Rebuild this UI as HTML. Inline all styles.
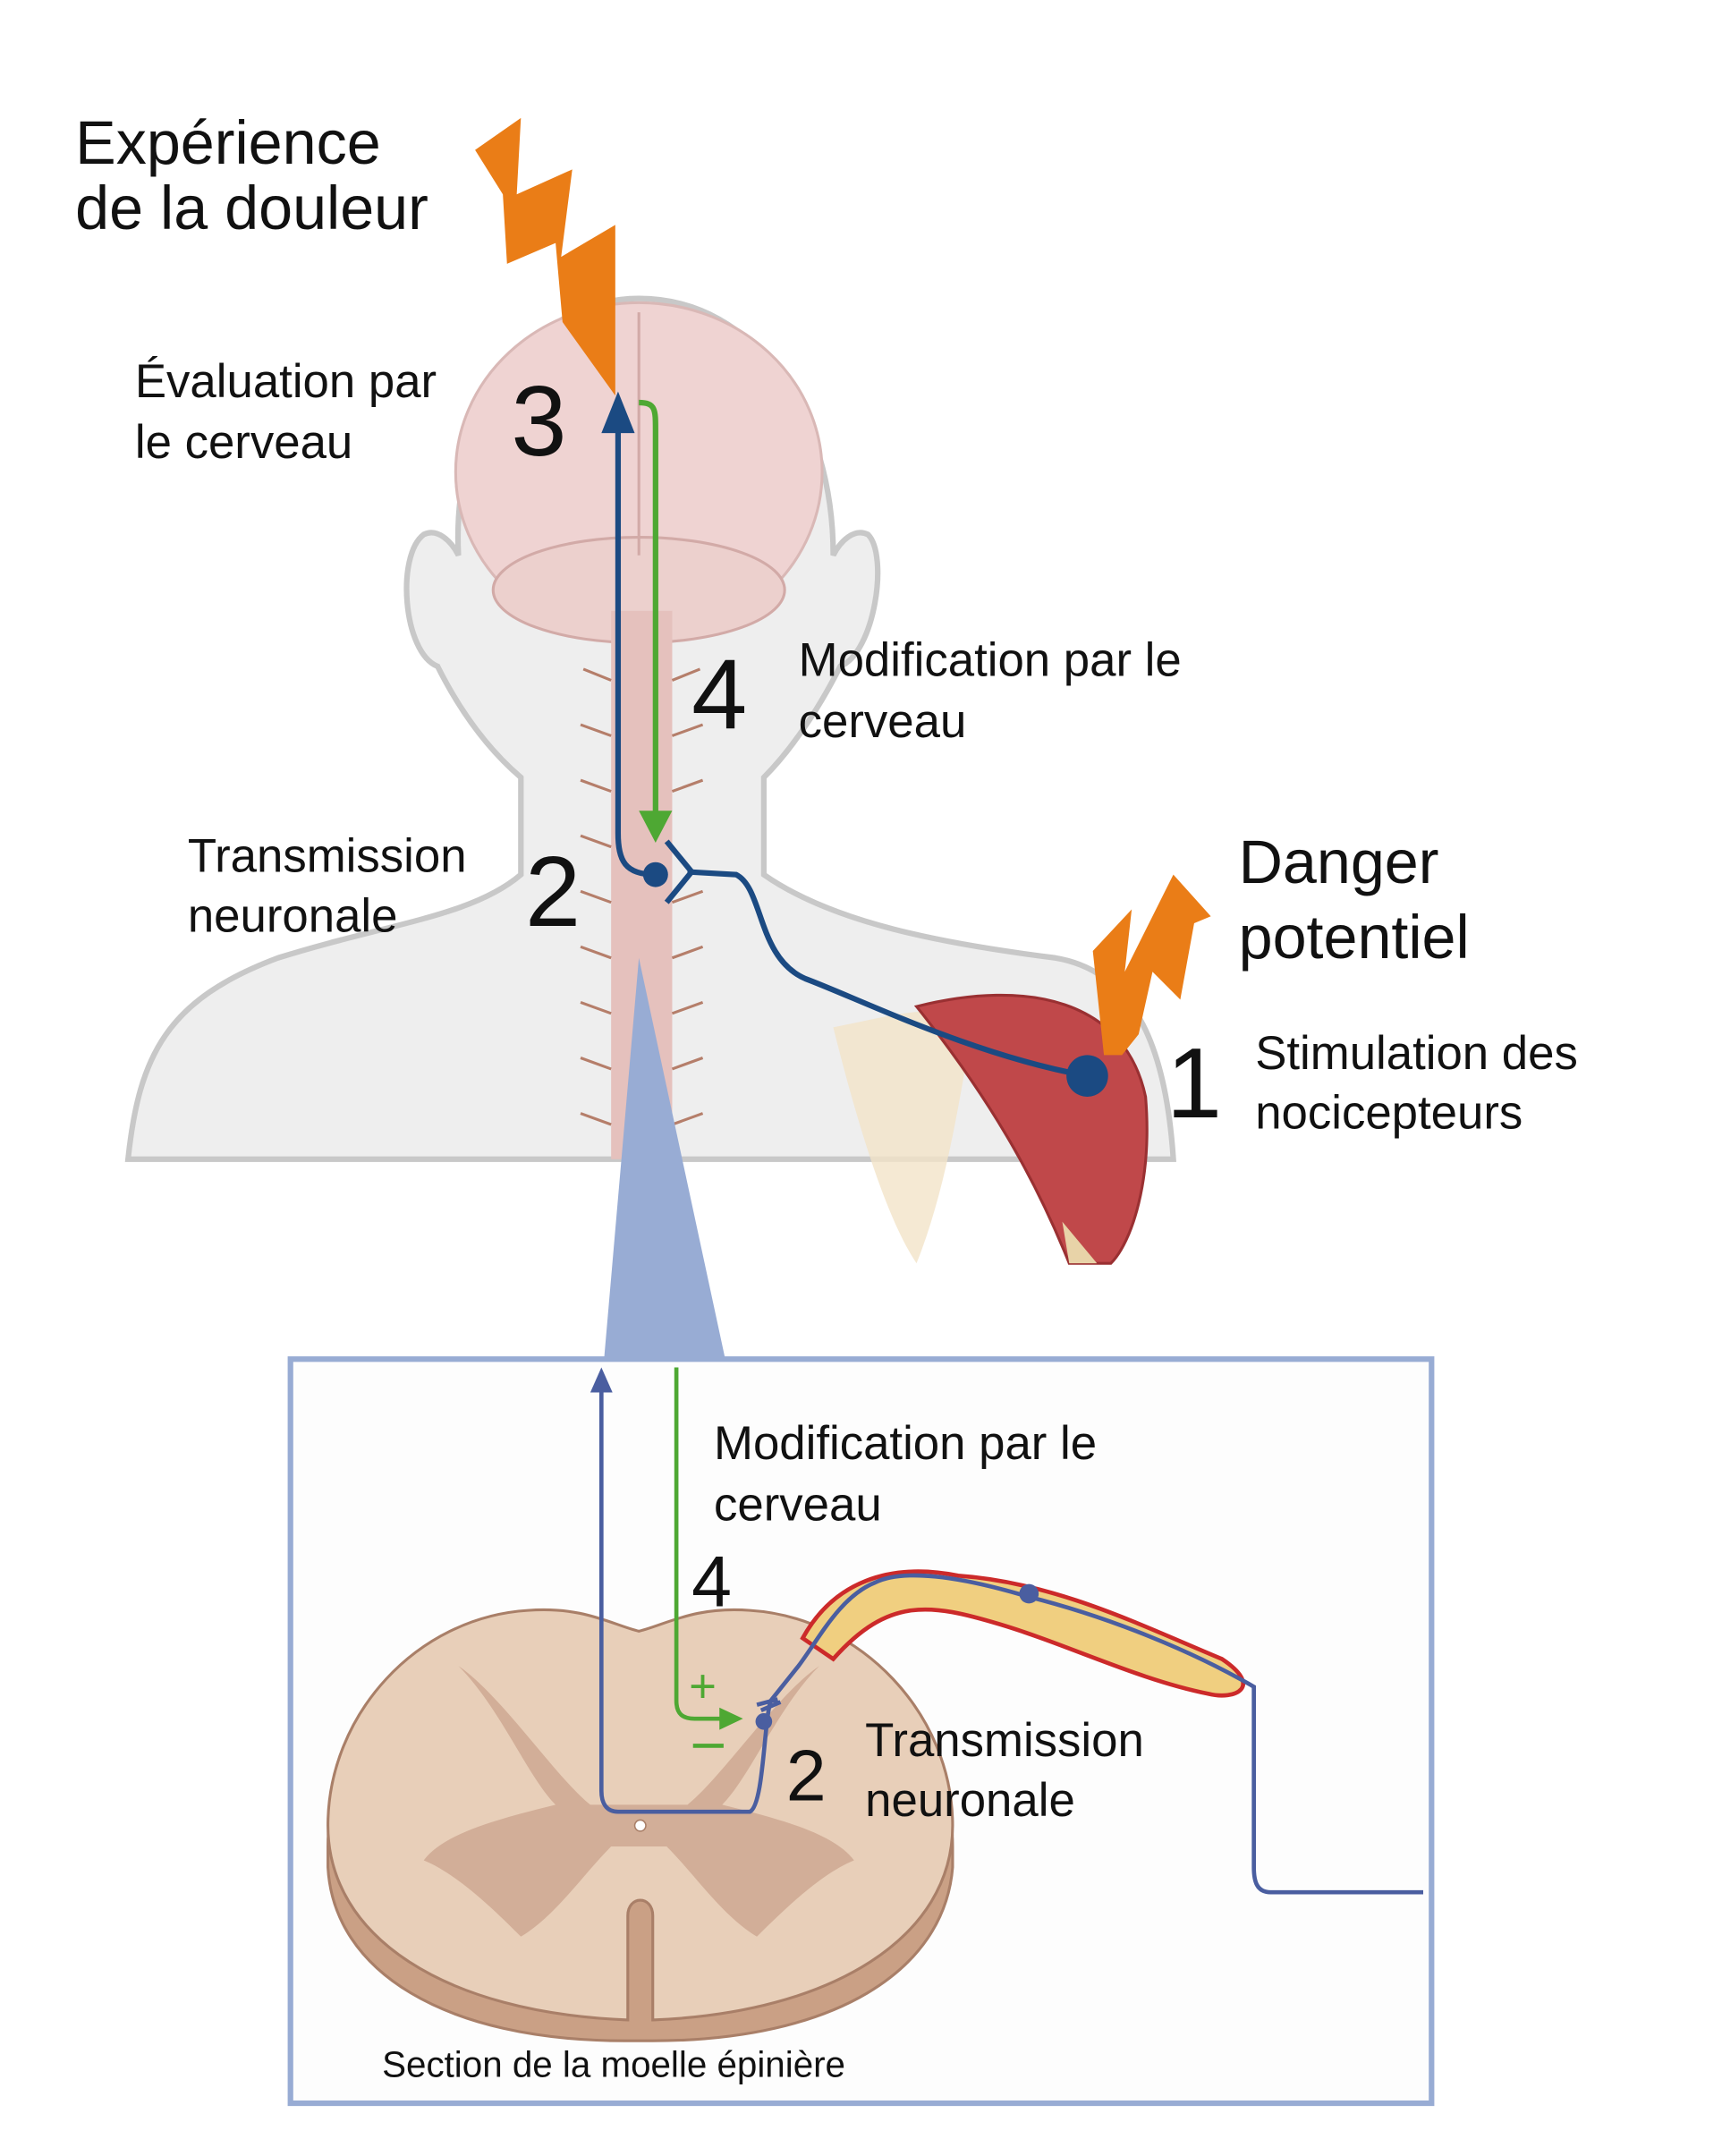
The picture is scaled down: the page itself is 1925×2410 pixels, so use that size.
<!DOCTYPE html>
<html><head><meta charset="utf-8"><style>
html,body{margin:0;padding:0;background:#fff;}
svg{display:block;}
text{font-family:"Liberation Sans","DejaVu Sans",sans-serif;fill:#111;}
</style></head><body>
<svg width="1925" height="2410" viewBox="0 0 1240 1553" xmlns="http://www.w3.org/2000/svg">
<rect width="1240" height="1553" fill="#fff"/>
<!-- body -->
<path d="M92,835 C100,760 120,720 200,690 C280,665 340,660 375,630 L375,560 C340,530 320,490 315,480 C290,470 285,400 305,385 C315,380 325,390 330,400 C325,300 380,215 460,215 C545,215 600,300 600,400 C605,390 615,380 625,385 C640,400 630,470 605,480 C595,500 575,535 550,560 L550,630 C600,665 680,680 760,690 C820,700 840,760 845,835 Z" fill="#eeeeee" stroke="#c8c8c8" stroke-width="4"/>
<!-- brain -->
<ellipse cx="460" cy="340" rx="132" ry="122" fill="#efd3d2" stroke="#d9b8b6" stroke-width="2"/>
<ellipse cx="460" cy="425" rx="105" ry="38" fill="#ecd0cd" stroke="#d2aaa7" stroke-width="2"/>
<line x1="460" y1="225" x2="460" y2="400" stroke="#d2aaa7" stroke-width="2"/>
<!-- spinal cord -->
<rect x="440" y="440" width="44" height="395" fill="#e5c1bd"/>
<g stroke="#b57e6a" stroke-width="2" fill="none">
<path d="M440,490 l-20,-8 M440,530 l-22,-8 M440,570 l-22,-8 M440,610 l-22,-8 M440,650 l-22,-8 M440,690 l-22,-8 M440,730 l-22,-8 M440,770 l-22,-8 M440,810 l-22,-8"/>
<path d="M484,490 l20,-8 M484,530 l22,-8 M484,570 l22,-8 M484,650 l22,-8 M484,690 l22,-8 M484,730 l22,-8 M484,770 l22,-8 M484,810 l22,-8"/>
</g>
<!-- shoulder / muscle -->
<path d="M600,740 C650,730 680,720 700,740 C690,800 680,860 660,910 C640,880 620,820 600,740 Z" fill="#f3e3c8" opacity="0.8"/>
<path d="M660,725 C740,705 810,720 825,790 C830,850 815,895 800,910 L770,910 C750,860 720,800 660,725 Z" fill="#c0484a" stroke="#9a3032" stroke-width="2"/>
<path d="M765,880 L790,910 L770,910 Z" fill="#e8d3a8"/>
<!-- triangle -->
<polygon points="460,690 435,978 522,978" fill="#98acd4"/>
<!-- neurons top -->
<path d="M783,775 C700,760 620,720 580,705 C545,690 550,640 530,630 L495,628" fill="none" stroke="#1b4a82" stroke-width="4"/>
<path d="M480,606 L498,628 L480,650" fill="none" stroke="#1b4a82" stroke-width="4"/>
<path d="M472,630 C450,630 445,620 445,600 L445,300" fill="none" stroke="#1b4a82" stroke-width="4"/>
<polygon points="445,282 433,312 457,312" fill="#1b4a82"/>
<circle cx="472" cy="630" r="9" fill="#1b4a82"/>
<circle cx="783" cy="775" r="15" fill="#1b4a82"/>
<path d="M460,290 C472,290 472,295 472,310 L472,590" fill="none" stroke="#4ea833" stroke-width="4"/>
<polygon points="460,584 484,584 472,607" fill="#4ea833"/>
<!-- bolts -->
<polygon points="342,108 375,85 372,140 412,122 404,185 443,162 443,285 405,232 400,175 365,190 362,140 342,108" fill="#ea7d17"/>
<polygon points="787,685 815,655 810,700 845,630 872,660 860,665 850,720 830,700 820,745 808,760 795,760" fill="#ea7d17"/>
<!-- texts top -->
<text x="54" y="118" font-size="44">Expérience</text>
<text x="54" y="165" font-size="44">de la douleur</text>
<text x="97" y="286" font-size="34">Évaluation par</text>
<text x="97" y="330" font-size="34">le cerveau</text>
<text x="368" y="328" font-size="72">3</text>
<text x="498" y="525" font-size="72">4</text>
<text x="575" y="487" font-size="34">Modification par le</text>
<text x="575" y="531" font-size="34">cerveau</text>
<text x="135" y="628" font-size="34">Transmission</text>
<text x="135" y="671" font-size="34">neuronale</text>
<text x="378" y="667" font-size="72">2</text>
<text x="892" y="636" font-size="44">Danger</text>
<text x="892" y="690" font-size="44">potentiel</text>
<text x="840" y="805" font-size="72">1</text>
<text x="904" y="770" font-size="34">Stimulation des</text>
<text x="904" y="813" font-size="34">nocicepteurs</text>
<!-- box -->
<rect x="209" y="979" width="822" height="536" fill="#fdfdfd" stroke="#98acd4" stroke-width="4"/>
<!-- spinal section -->
<path d="M236,1330 C236,1250 300,1180 380,1175 C420,1172 440,1185 460,1190 C480,1185 500,1172 540,1175 C620,1180 686,1250 686,1330 L686,1345 C680,1420 600,1470 470,1470 L450,1470 C320,1470 240,1420 236,1345 Z" fill="#caa085" stroke="#a97f68" stroke-width="2"/>
<path d="M236,1315 C236,1235 300,1165 380,1160 C420,1157 440,1170 460,1175 C480,1170 500,1157 540,1160 C620,1165 686,1235 686,1315 C686,1395 600,1450 470,1455 L470,1380 C470,1365 452,1365 452,1380 L452,1455 C320,1450 236,1395 236,1315 Z" fill="#e8cfb9" stroke="#a97f68" stroke-width="2"/>
<path d="M330,1200 C360,1230 380,1280 400,1300 C360,1310 320,1320 305,1340 C330,1350 360,1380 375,1395 C400,1380 420,1350 440,1330 L480,1330 C500,1350 520,1380 545,1395 C560,1380 590,1350 615,1340 C600,1320 560,1310 520,1300 C540,1280 560,1230 590,1200 C560,1220 520,1280 495,1300 L425,1300 C400,1280 360,1220 330,1200 Z" fill="#d2ae98"/>
<circle cx="461" cy="1315" r="4" fill="#fff" stroke="#a97f68"/>
<!-- ganglion -->
<path d="M578,1180 C600,1140 640,1125 690,1135 C760,1140 820,1170 880,1195 C910,1215 890,1225 870,1220 C820,1210 770,1185 720,1170 C670,1155 640,1150 600,1195 Z" fill="#f0cf80" stroke="#cc2a2a" stroke-width="3"/>
<!-- neurons bottom -->
<path d="M1025,1363 L915,1363 C905,1363 903,1355 903,1345 L903,1215 C860,1190 800,1165 740,1150 C690,1135 650,1130 630,1140 C605,1150 590,1180 575,1200 L555,1225 C550,1240 550,1300 540,1305 L445,1305 C436,1305 433,1298 433,1290 L433,1000" fill="none" stroke="#4a5ea0" stroke-width="3"/>
<polygon points="433,985 425,1003 441,1003" fill="#4a5ea0"/>
<circle cx="741" cy="1148" r="7" fill="#4a5ea0"/>
<circle cx="550" cy="1240" r="6" fill="#4a5ea0"/>
<path d="M545,1228 L560,1224 M548,1232 L562,1226" stroke="#4a5ea0" stroke-width="3"/>
<path d="M487,985 L487,1225 C487,1235 492,1238 500,1238 L520,1238" fill="none" stroke="#4ea833" stroke-width="3"/>
<polygon points="518,1230 535,1238 518,1246" fill="#4ea833"/>
<text x="496" y="1226" font-size="34" fill="#4ea833" style="fill:#4ea833">+</text>
<rect x="499" y="1256" width="22" height="3" fill="#4ea833"/>
<text x="514" y="1051" font-size="34">Modification par le</text>
<text x="514" y="1095" font-size="34">cerveau</text>
<text x="498" y="1157" font-size="52">4</text>
<text x="566" y="1297" font-size="52">2</text>
<text x="623" y="1265" font-size="34">Transmission</text>
<text x="623" y="1308" font-size="34">neuronale</text>
<text x="275" y="1496" font-size="26">Section de la moelle épinière</text>
</svg>
</body></html>
